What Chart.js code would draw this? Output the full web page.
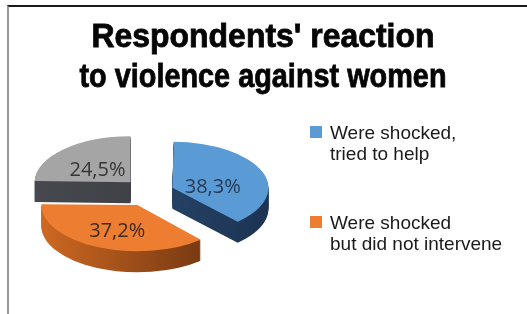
<!DOCTYPE html>
<html><head><meta charset="utf-8">
<script src="https://cdn.jsdelivr.net/npm/chart.js@4.4.1/dist/chart.umd.min.js"></script>
<style>
html,body{margin:0;padding:0;background:#fff;}
#wrap{position:relative;width:527px;height:314px;overflow:hidden;}
#frame{position:absolute;left:7px;top:5px;right:-5px;bottom:-5px;border-top:2px solid #1a1a1a;border-left:2px solid #9a9a9a;pointer-events:none;}
canvas{position:absolute;left:0;top:0;}
</style></head><body>
<div id="wrap"><canvas id="c" width="527" height="314"></canvas><div id="frame"></div></div>
<script>
// ---- data ----
const categories = [['Were shocked,', 'tried to help'], ['Were shocked', 'but did not intervene'], ['Other']];
const values = [38.3, 37.2, 24.5];
const valueLabels = ['38,3%', '37,2%', '24,5%'];
const titleLines = ["Respondents' reaction", 'to violence against women'];
const legendShown = [true, true, false];

// ---- styles ----
const topColors = ['#5b9bd5', '#ed7d31', '#a5a5a5'];
const sideColors = [['#2a4a70', '#1b314f'], ['#d46c24', '#6e3410'], ['#474a50', '#3a3c41']];
const labelColors = ['#243a55', '#3d2b1c', '#363636'];
const labelShift = [[0, 7], [-2, 7], [-3, 3]];
const explode = [96, 120, 112];
const PIE = {cx: 150, cy: 192, r: 96, k: 0.48, depth: 21, labelR: 0.45};
const LEG = {x: 310, y: 126, box: 12, textX: 330, itemGap: 90, lineH: 21, font: '19px "Liberation Sans"'};
const TITLE = {cx: 263, baselines: [47, 87], widths: [343, 367], font: 'bold 33px "Liberation Sans"'};

function pieTransform(ctx, arcs) {
  ctx.translate(PIE.cx - arcs[0].x, PIE.cy);
  ctx.scale(1, PIE.k);
  ctx.translate(0, -arcs[0].y);
}

const pie3d = {
  id: 'pie3d',
  beforeDatasetsDraw(chart) {
    const ctx = chart.ctx;
    const arcs = chart.getDatasetMeta(0).data;
    const order = arcs.map((a, i) => i).sort((a, b) => {
      const ha = (arcs[a].startAngle + arcs[a].endAngle) / 2;
      const hb = (arcs[b].startAngle + arcs[b].endAngle) / 2;
      return Math.sin(ha) - Math.sin(hb);
    });
    for (const i of order) {
      const arc = arcs[i];
      const o = arc.options;
      const circ = arc.endAngle - arc.startAngle;
      const fix = 1 - Math.sin(Math.min(Math.PI, circ));
      const r0 = arc.outerRadius;
      arc.outerRadius = PIE.r - (o.offset / 4) * fix;
      ctx.save();
      pieTransform(ctx, arcs);
      const half = (arc.startAngle + arc.endAngle) / 2;
      const ex = arc.x + Math.cos(half) * o.offset / 4;
      const g = ctx.createLinearGradient(ex - PIE.r, 0, ex + PIE.r, 0);
      g.addColorStop(0, sideColors[i][0]);
      g.addColorStop(1, sideColors[i][1]);
      arc.options = Object.assign({}, o, {backgroundColor: g});
      for (let d = PIE.depth; d >= 1; d--) {
        ctx.save();
        ctx.translate(0, d / PIE.k);
        arc.draw(ctx);
        ctx.restore();
      }
      arc.options = o;
      arc.draw(ctx);
      ctx.restore();
      arc.outerRadius = r0;
    }
    return false;
  },
  afterDraw(chart) {
    const ctx = chart.ctx;
    const arcs = chart.getDatasetMeta(0).data;
    const dx = PIE.cx - arcs[0].x;
    const cy0 = arcs[0].y;
    ctx.save();
    // title
    ctx.font = TITLE.font;
    ctx.textAlign = 'center';
    ctx.textBaseline = 'alphabetic';
    ctx.fillStyle = '#050505';
    ctx.strokeStyle = '#050505';
    ctx.lineWidth = 0.8;
    titleLines.forEach((t, j) => {
      const w = ctx.measureText(t).width;
      ctx.save();
      ctx.translate(TITLE.cx, TITLE.baselines[j]);
      ctx.scale(TITLE.widths[j] / w, 1);
      ctx.fillText(t, 0, 0);
      ctx.strokeText(t, 0, 0);
      ctx.restore();
    });
    // value labels
    ctx.font = '20px "Open Sans"';
    ctx.textAlign = 'center';
    ctx.textBaseline = 'middle';
    arcs.forEach((arc, i) => {
      const half = (arc.startAngle + arc.endAngle) / 2;
      const off = arc.options.offset / 4 + PIE.r * PIE.labelR;
      const lx = arc.x + dx + Math.cos(half) * off + labelShift[i][0];
      const ly = PIE.cy + PIE.k * (arc.y + Math.sin(half) * off - cy0) + labelShift[i][1];
      ctx.fillStyle = labelColors[i];
      ctx.fillText(valueLabels[i], lx, ly);
    });
    // legend
    ctx.textAlign = 'left';
    ctx.textBaseline = 'alphabetic';
    ctx.font = LEG.font;
    let n = 0;
    categories.forEach((lines, i) => {
      if (!legendShown[i]) return;
      const y = LEG.y + n * LEG.itemGap;
      ctx.fillStyle = topColors[i];
      ctx.fillRect(LEG.x, y, LEG.box, LEG.box);
      ctx.fillStyle = '#1a1a1a';
      lines.forEach((t, j) => ctx.fillText(t, LEG.textX, y + 13 + j * LEG.lineH));
      n++;
    });
    ctx.restore();
  }
};

new Chart(document.getElementById('c'), {
  type: 'pie',
  data: {
    labels: categories,
    datasets: [{data: values, backgroundColor: topColors, borderWidth: 0, offset: explode}]
  },
  options: {
    responsive: false,
    animation: false,
    radius: PIE.r,
    layout: {padding: {top: 100}},
    plugins: {
      legend: {display: false},
      tooltip: {enabled: false},
      title: {display: false}
    }
  },
  plugins: [pie3d]
});
</script>
</body></html>
